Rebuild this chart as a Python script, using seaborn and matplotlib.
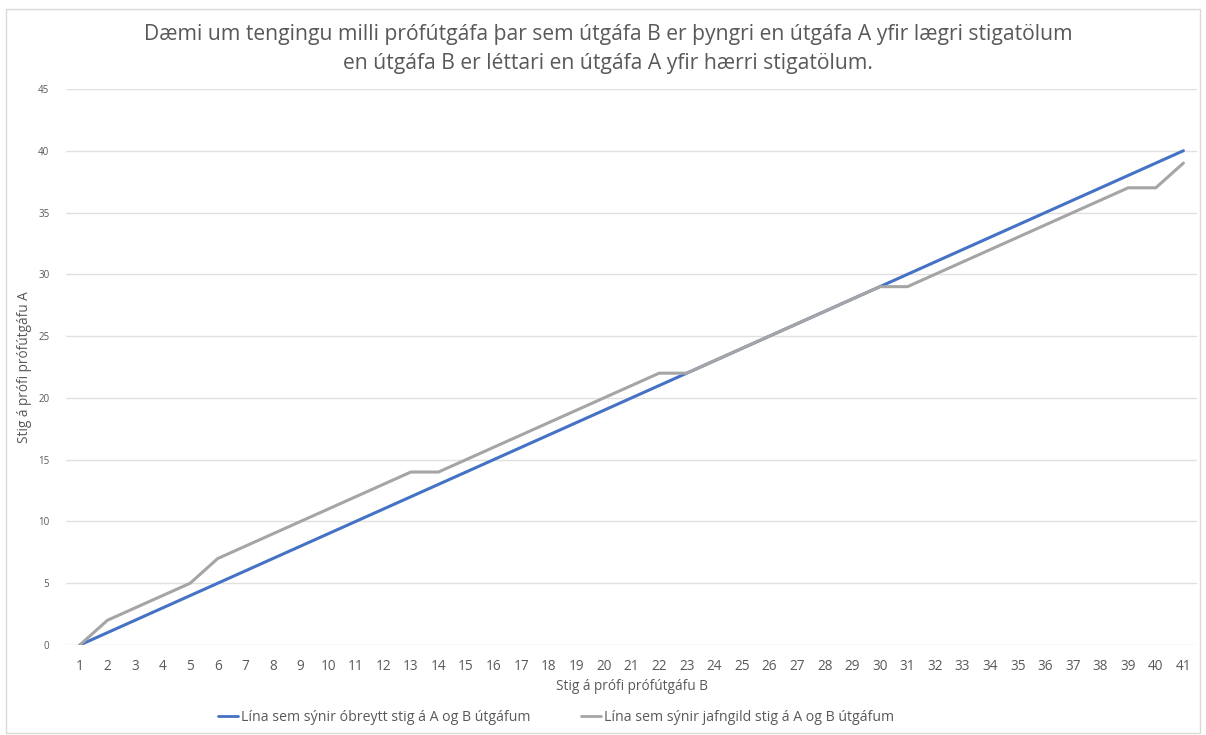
import numpy as np
import pandas as pd
import matplotlib
matplotlib.use("Agg")
import matplotlib.pyplot as plt
import seaborn as sns
from matplotlib.patches import Rectangle

# stig á prófútgáfu B (flokkar á x-ás)
stig_b = list(range(1, 42))
# óbreytt stig
obreytt = [0, 1, 2, 3, 4, 5, 6, 7, 8, 9, 10, 11, 12, 13, 14, 15, 16, 17, 18, 19,
           20, 21, 22, 23, 24, 25, 26, 27, 28, 29, 30, 31, 32, 33, 34, 35, 36, 37,
           38, 39, 40]
# jafngild stig
jafngild = [0, 2, 3, 4, 5, 7, 8, 9, 10, 11, 12, 13, 14, 14, 15, 16, 17, 18, 19, 20,
            21, 22, 22, 23, 24, 25, 26, 27, 28, 29, 29, 30, 31, 32, 33, 34, 35, 36,
            37, 37, 39]

lab_blue = "Lína sem sýnir óbreytt stig á A og B útgáfum"
lab_gray = "Lína sem sýnir jafngild stig á A og B útgáfum"

df = pd.DataFrame({
    "B": stig_b * 2,
    "A": obreytt + jafngild,
    "lina": [lab_blue] * len(stig_b) + [lab_gray] * len(stig_b),
})

sns.set_theme(style="white")
plt.rcParams["font.family"] = ["Open Sans", "DejaVu Sans"]

fig = plt.figure(figsize=(12.06, 7.35), dpi=100)
ax = fig.add_axes([0.0547, 0.1224, 0.938, 0.7566])

# ramminn utan um myndina
fig.patches.append(Rectangle((0.005, 0.003), 0.99, 0.985, transform=fig.transFigure,
                             fill=False, edgecolor="#d9d9d9", lw=1))

sns.lineplot(data=df, x="B", y="A", hue="lina",
             palette={lab_blue: "#4472C4", lab_gray: "#A5A5A5"},
             linewidth=2.2, ax=ax, legend=False)

ax.set_xlim(0.5, 41.5)
ax.set_ylim(0, 45)
ax.set_xticks(stig_b)
ax.set_yticks(range(0, 46, 5))
ax.tick_params(axis="x", labelsize=9.8, colors="#595959", length=0, pad=10)
ax.tick_params(axis="y", labelsize=7, colors="#595959", length=0, pad=12)
ax.yaxis.grid(True, color="#e0e0e0", lw=1)
ax.set_axisbelow(True)
for s in ax.spines.values():
    s.set_visible(False)

ax.set_xlabel("Stig á prófi prófútgáfu B", fontsize=9.8, color="#595959", labelpad=4)
ax.set_ylabel("Stig á prófi prófútgáfu A", fontsize=9.8, color="#595959", labelpad=4)

fig.text(0.504, 0.967, "Dæmi um tengingu milli prófútgáfa þar sem útgáfa B er þyngri en útgáfa A yfir lægri stigatölum\n"
         "en útgáfa B er léttari en útgáfa A yfir hærri stigatölum.",
         ha="center", va="top", fontsize=15.2, color="#595959", linespacing=1.5)

# skýringar neðst
fig.legend(handles=[plt.Line2D([], [], color="#4472C4", lw=2),
                    plt.Line2D([], [], color="#A5A5A5", lw=2)],
           labels=[lab_blue, lab_gray], loc="center", bbox_to_anchor=(0.461, 0.024),
           ncol=2, frameon=False, fontsize=10.2, labelcolor="#595959",
           handlelength=1.4, handletextpad=0.2, columnspacing=3.6)

fig.savefig("out.png", dpi=100)
